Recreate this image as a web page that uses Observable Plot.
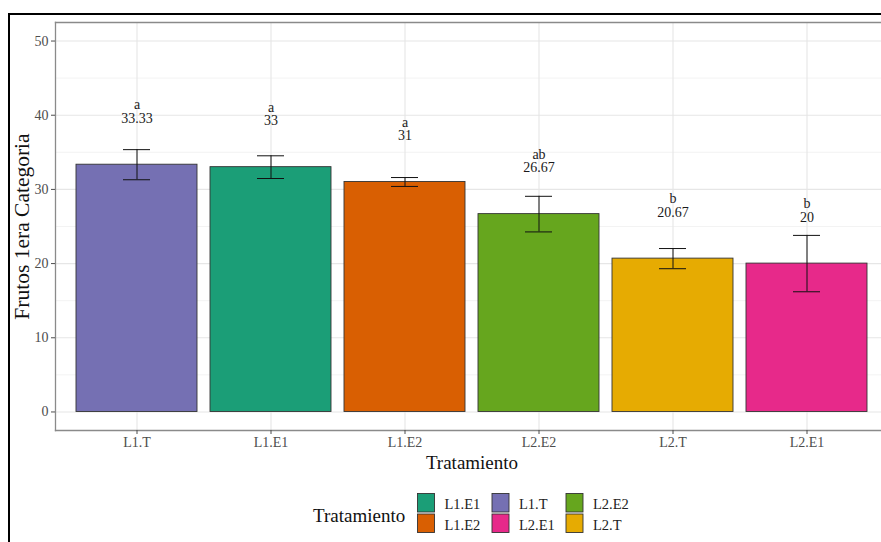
<!DOCTYPE html>
<html>
<head>
<meta charset="utf-8">
<script src="https://cdn.jsdelivr.net/npm/d3@7"></script>
<script src="https://cdn.jsdelivr.net/npm/@observablehq/plot@0.6"></script>
<style>
  html, body { margin: 0; padding: 0; background: #fff; overflow: hidden; width: 881px; height: 542px; }
  #wrap { position: relative; width: 881px; height: 542px; font-family: "Liberation Serif", "Times New Roman", serif; }
  #border { position: absolute; left: 8px; top: 13px; width: 900px; height: 600px; border: 2px solid #000; box-sizing: border-box; }
  #chart { position: absolute; left: 0; top: 0; }
  #legend { position: absolute; left: 0; top: 482px; }
</style>
</head>
<body>
<div id="wrap">
  <div id="border"></div>
  <div id="chart"></div>
  <div id="legend"></div>
</div>
<script>
// Treatments, ordered by mean yield
const categories = ["L1.T", "L1.E1", "L1.E2", "L2.E2", "L2.T", "L2.E1"];
const means = [33.33, 33, 31, 26.67, 20.67, 20];
const errors = [2.03, 1.53, 0.6, 2.4, 1.36, 3.8];
const letters = ["a", "a", "a", "ab", "b", "b"];
const palette = ["#7570B3", "#1B9E77", "#D95F02", "#66A61E", "#E6AB02", "#E7298A"];

// Axis ticks
const yMajor = [0, 10, 20, 30, 40, 50];
const yMinor = [5, 15, 25, 35, 45];

// Legend order (alphabetical, filled column by column, two rows)
const legendOrder = ["L1.E1", "L1.E2", "L1.T", "L2.E1", "L2.E2", "L2.T"];

const font = '"Liberation Serif", "Times New Roman", serif';

const data = categories.map((c, i) => ({
  trat: c,
  mean: means[i],
  lo: means[i] - errors[i],
  hi: means[i] + errors[i],
  label: `${letters[i]}\n${means[i]}`
}));

const plot = Plot.plot({
  width: 881,
  height: 482,
  marginLeft: 55,
  marginRight: 0,
  marginTop: 22,
  marginBottom: 52,
  style: { fontFamily: font, fontSize: "14px", background: "transparent", overflow: "visible" },
  x: { domain: categories, range: [55, 888], paddingInner: 0.1, paddingOuter: 0.15, label: null },
  y: { domain: [-2.5, 52.5], label: null },
  color: { domain: categories, range: palette },
  marks: [
    // panel grid
    Plot.ruleY(yMinor, { stroke: "#f0f0f0", strokeWidth: 0.8 }),
    Plot.ruleY(yMajor, { stroke: "#e6e6e6", strokeWidth: 1.1 }),
    Plot.ruleX(categories, { x: d => d, stroke: "#e6e6e6", strokeWidth: 1.1 }),
    // bars
    Plot.barY(data, { x: "trat", y1: 0, y2: "mean", fill: "trat", stroke: "#333", strokeWidth: 0.9 }),
    // error bars
    Plot.ruleX(data, { x: "trat", y1: "lo", y2: "hi", stroke: "#111", strokeWidth: 1 }),
    Plot.tickY(data, { x: "trat", y: "hi", stroke: "#111", strokeWidth: 1, insetLeft: 47, insetRight: 47 }),
    Plot.tickY(data, { x: "trat", y: "lo", stroke: "#111", strokeWidth: 1, insetLeft: 47, insetRight: 47 }),
    // group letters and means
    Plot.text(data, { x: "trat", y: "mean", text: "label", dy: -53, fontSize: 14, lineHeight: 0.97, fill: "#1a1a1a" }),
    // panel border (left, top, bottom)
    Plot.frame({ anchor: "left", stroke: "#8a8a8a", strokeWidth: 1.3 }),
    Plot.frame({ anchor: "top", stroke: "#8a8a8a", strokeWidth: 1.3 }),
    Plot.frame({ anchor: "bottom", stroke: "#8a8a8a", strokeWidth: 1.3 }),
    // axes
    Plot.axisY({ ticks: yMajor, tickSize: 4, tickPadding: 3, fontSize: 14, color: "#4d4d4d", label: null }),
    Plot.axisX({ tickSize: 4, tickPadding: 3, fontSize: 14, color: "#4d4d4d", label: null }),
    // axis titles
    Plot.text(["Tratamiento"], { frameAnchor: "bottom", dx: 3.5, dy: 38, fontSize: 19, fill: "#111" }),
    Plot.text(["Frutos 1era Categoria"], { frameAnchor: "left", textAnchor: "middle", rotate: -90, dx: -33, fontSize: 21.5, fill: "#111" })
  ]
});
document.getElementById("chart").appendChild(plot);

// Legend
const colorScale = plot.scale("color");
const colorOf = c => colorScale.range[colorScale.domain.indexOf(c)];
const leg = d3.create("svg").attr("width", 881).attr("height", 60)
  .style("font-family", font);
leg.append("text").attr("x", 313).attr("y", 33).attr("dominant-baseline", "central")
  .attr("font-size", 19).attr("fill", "#111").text("Tratamiento");
const colX = [417.5, 492, 566];
const rowY = [493.5 - 482, 514 - 482];
legendOrder.forEach((c, i) => {
  const col = Math.floor(i / 2), row = i % 2;
  leg.append("rect").attr("x", colX[col]).attr("y", rowY[row]).attr("width", 17).attr("height", 18.5)
    .attr("fill", colorOf(c)).attr("stroke", "#333").attr("stroke-width", 0.9);
  leg.append("text").attr("x", colX[col] + 27).attr("y", rowY[row] + 10.5)
    .attr("dominant-baseline", "central").attr("font-size", 14.5).attr("fill", "#222").text(c);
});
document.getElementById("legend").appendChild(leg.node());
</script>
</body>
</html>
